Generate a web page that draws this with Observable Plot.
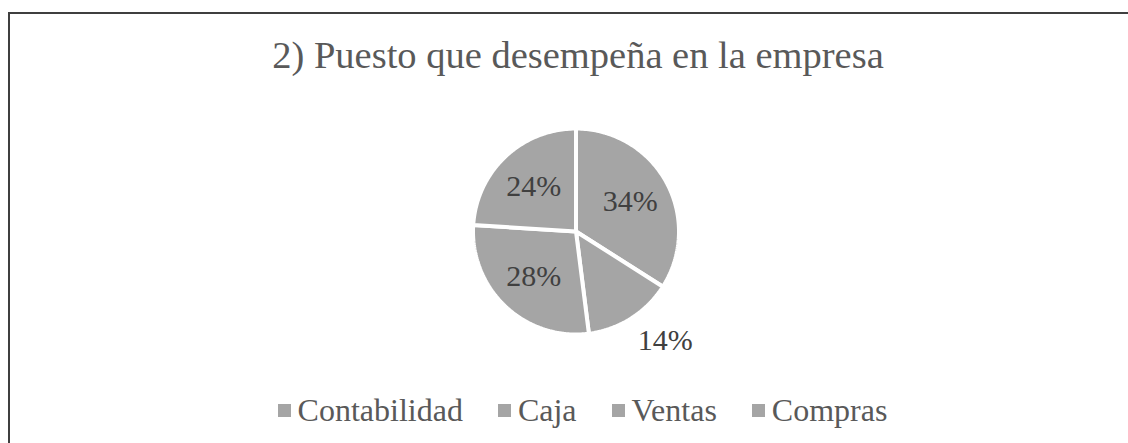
<!DOCTYPE html>
<html><head><meta charset="utf-8">
<script src="https://cdn.jsdelivr.net/npm/d3@7"></script>
<script src="https://cdn.jsdelivr.net/npm/@observablehq/plot@0.6"></script>
<style>
body{margin:0;background:#fff;width:1128px;height:443px;overflow:hidden;position:relative;font-family:"Liberation Serif","Times New Roman",serif;}
#frame{position:absolute;left:8px;top:12px;width:1200px;height:500px;border-top:2px solid #3f3f3f;border-left:2px solid #3f3f3f;box-sizing:border-box;}
#title{position:absolute;left:0;width:1156px;top:30px;line-height:50px;text-align:center;font-size:38.5px;color:#595959;white-space:nowrap;}
#chart{position:absolute;left:0;top:110px;}
#legend{position:absolute;left:0;width:1165px;top:391px;line-height:38px;text-align:center;font-size:32px;color:#595959;white-space:nowrap;}
#legend span.item + span.item{margin-left:35px;}
#legend span.sw{display:inline-block;width:13px;height:13px;background:#a5a5a5;margin-right:7px;position:relative;top:-4px;}
</style></head>
<body>
<div id="frame"></div>
<div id="title">2) Puesto que desempeña en la empresa</div>
<div id="chart"></div>
<div id="legend"></div>
<script>
const categories = ["Contabilidad", "Caja", "Ventas", "Compras"];
const values = [34, 14, 28, 24];
const valueLabels = ["34%", "14%", "28%", "24%"];
const sliceColor = "#a5a5a5";

const total = d3.sum(values);
const arcs = d3.pie().sort(null).value(d => d)(values);
const poly = [];
arcs.forEach((a, i) => {
  poly.push({cat: categories[i], x: 0, y: 0});
  const n = Math.max(2, Math.ceil((a.endAngle - a.startAngle) / (Math.PI / 180)));
  for (let k = 0; k <= n; k++) {
    const t = a.startAngle + (a.endAngle - a.startAngle) * k / n;
    poly.push({cat: categories[i], x: Math.sin(t), y: Math.cos(t)});
  }
  poly.push({cat: categories[i], x: 0, y: 0});
});
const labelPts = arcs.map((a, i) => {
  const m = (a.startAngle + a.endAngle) / 2;
  const outside = values[i] / total < 0.15;
  const r = outside ? 1.12 : 0.6;
  return {label: valueLabels[i], outside, x: r * Math.sin(m), y: r * Math.cos(m)};
});

const cx = 575.5, cy = 121, R = 103;
const font = "Liberation Serif, Times New Roman, serif";
const chart = Plot.plot({
  width: 1128, height: 260,
  margin: 0,
  x: {domain: [-1, 1], range: [cx - R, cx + R], axis: null},
  y: {domain: [-1, 1], range: [cy + R, cy - R], axis: null},
  style: {background: "transparent", overflow: "visible"},
  marks: [
    Plot.line(poly, {x: "x", y: "y", z: "cat", fill: sliceColor, stroke: "white", strokeWidth: 4, strokeLinejoin: "miter", curve: "linear"}),
    Plot.text(labelPts.filter(d => !d.outside), {x: "x", y: "y", text: "label", fontSize: 30, fill: "#404040", fontFamily: font}),
    Plot.text(labelPts.filter(d => d.outside), {x: "x", y: "y", text: "label", fontSize: 30, fill: "#404040", fontFamily: font, textAnchor: "start", lineAnchor: "top"})
  ]
});
document.getElementById("chart").appendChild(chart);

const leg = document.getElementById("legend");
categories.forEach(c => {
  const it = document.createElement("span");
  it.className = "item";
  it.innerHTML = '<span class="sw"></span>' + c;
  leg.appendChild(it);
});
</script>
</body></html>
